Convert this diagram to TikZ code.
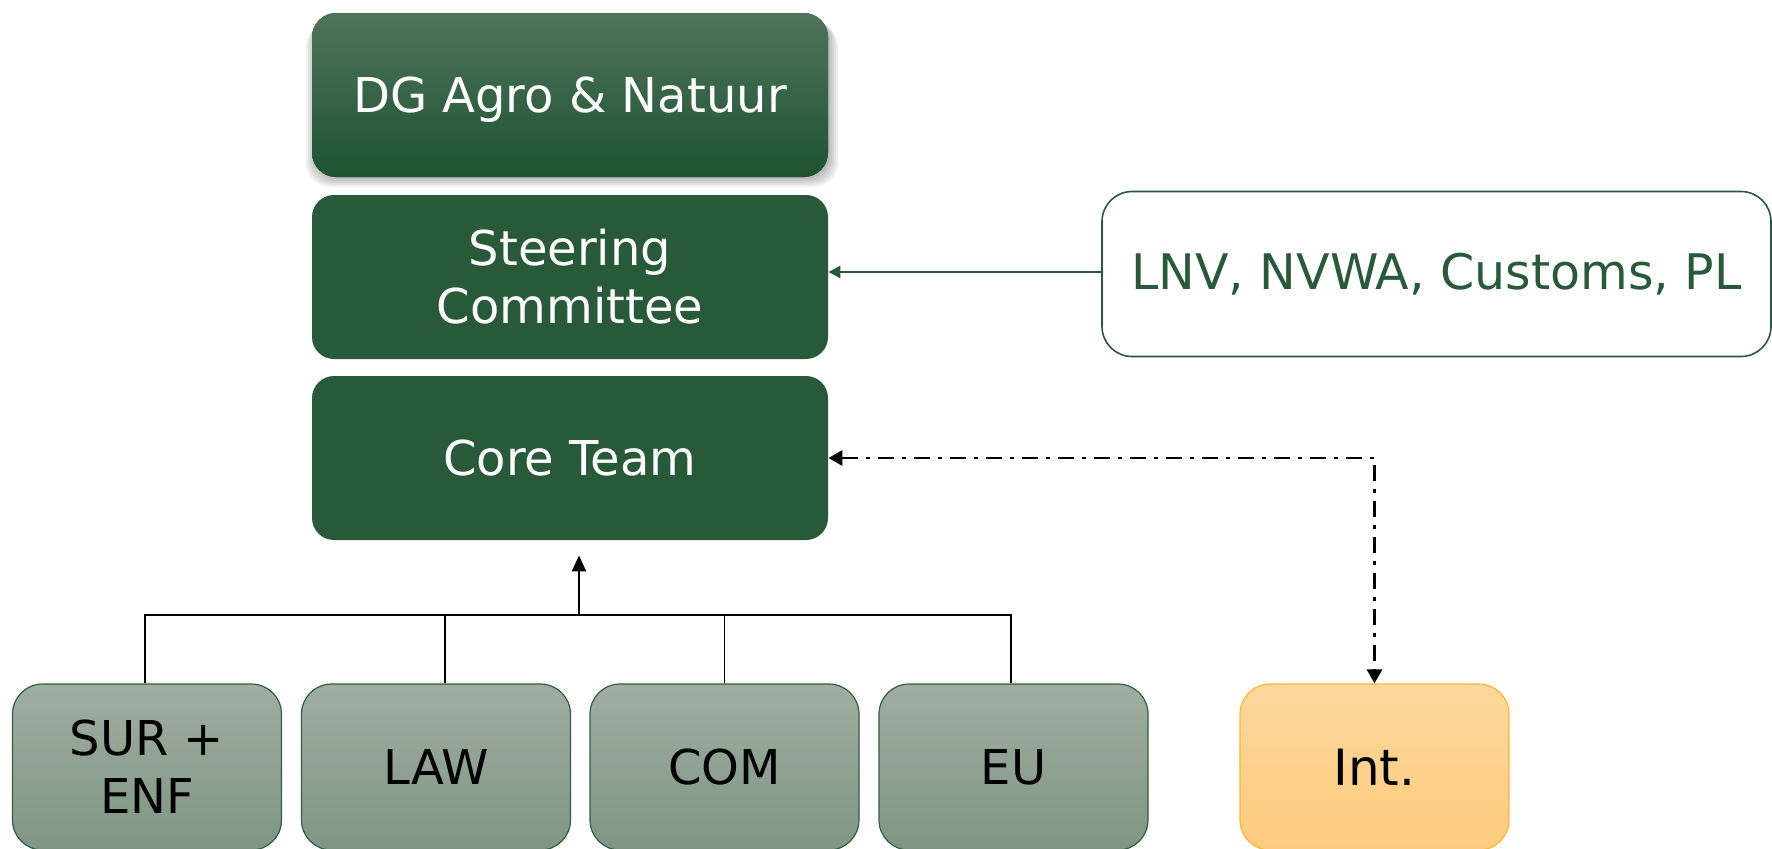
\documentclass[tikz,border=0pt]{standalone}
\usepackage{fontspec}
\setmainfont{DejaVu Sans}
\usetikzlibrary{arrows.meta,calc}

\definecolor{forest}{HTML}{285A3A}
\definecolor{dgtop}{HTML}{4F735B}
\definecolor{dgbot}{HTML}{1E5330}
\definecolor{unittop}{HTML}{A0AEA1}
\definecolor{unitbot}{HTML}{7F9583}
\definecolor{unitedge}{HTML}{2E5F3F}
\definecolor{inttop}{HTML}{FDD79D}
\definecolor{intbot}{HTML}{FDCB7D}
\definecolor{intedge}{HTML}{F6B732}

\begin{document}
\begin{tikzpicture}[x=0.5pt,y=-0.5pt,
  txt/.style={font=\fontsize{24}{29}\selectfont},
  greenbox/.style={txt, rounded corners=11pt, fill=forest, text=white,
    minimum width=258pt, minimum height=82pt, inner sep=0pt, align=center},
  unitbox/.style={txt, rounded corners=15pt, draw=unitedge, line width=0.6pt,
    top color=unittop, bottom color=unitbot, text=black,
    minimum width=134.5pt, minimum height=83pt, inner sep=0pt, align=center},
  tree/.style={line width=0.7pt, black},
  dashdot/.style={line width=1.4pt, black, dash pattern=on 8pt off 4pt on 2pt off 4pt}
]
\useasboundingbox (0,0) rectangle (1772,848);

% soft shadow under the top box
\foreach \d in {0,2,4,6,8}
  \fill[black, opacity=0.06, rounded corners=12pt]
    (312-\d+2,13+\d+2) rectangle (828+\d+2,176+\d+3);

% management chain
\node[greenbox, rounded corners=12pt, top color=dgtop, bottom color=dgbot,
  text depth=0pt] (dg) at (570,95) {DG Agro \& Natuur};
\node[greenbox] (steer) at (570,277) {Steering\\Committee};
\node[greenbox] (core) at (570,458) {Core Team};

% partner organisations
\node[txt, draw=forest, line width=0.8pt, rounded corners=15pt, fill=white,
  text=forest, minimum width=334.5pt, minimum height=82.5pt, inner sep=0pt,
  font=\fontsize{24.5}{30}\selectfont]
  (lnv) at (1436.5,274) {LNV, NVWA, Customs, PL};

% work streams
\node[unitbox] (sur) at (147,767) {SUR +\\ENF};
\node[unitbox] (law) at (436,767) {LAW};
\node[unitbox] (com) at (724.5,767) {COM};
\node[unitbox] (eu)  at (1013.5,767) {EU};
\node[unitbox, draw=intedge, top color=inttop, bottom color=intbot,
  font=\fontsize{25}{29}\selectfont] (int) at (1374.5,767) {Int.};

% connectors
\draw[line width=1.3pt, forest, -{Triangle[length=6pt,width=6pt]}]
  (lnv.west |- 0,272) -- (steer.east |- 0,272);

\draw[dashdot, {Triangle[length=7pt,width=7.5pt]}-{Triangle[length=7pt,width=7.5pt]}]
  (core.east) -| (int.north);

\coordinate (bus) at (579,615);
\coordinate (tip) at ($(core.south)+(9,15)$);
\coordinate (lawtop) at ($(law.north)+(9,0)$);
\draw[tree] (sur.north -| 145,0) |- (bus);
\draw[tree] (bus) -| (eu.north -| 1011,0);
\draw[tree] (lawtop) -- (lawtop |- bus);
\draw[tree] (com.north) -- (com.north |- bus);
\draw[line width=1.1pt, black, -{Triangle[length=8pt,width=7pt]}] (bus) -- (tip);
\end{tikzpicture}
\end{document}
